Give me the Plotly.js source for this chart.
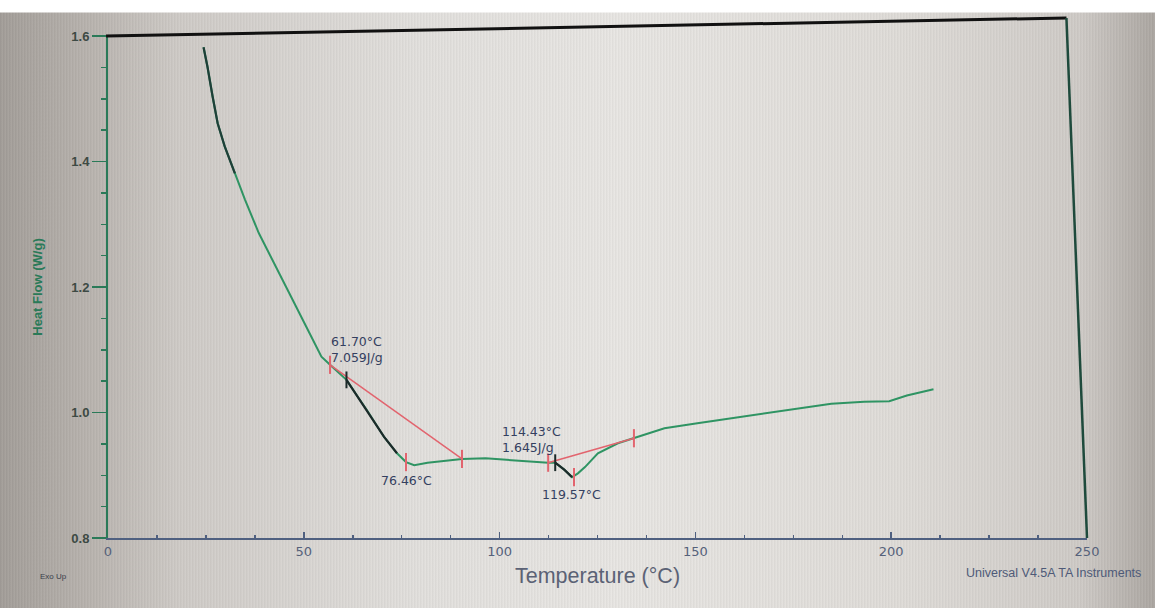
<!DOCTYPE html>
<html>
<head>
<meta charset="utf-8">
<script src="https://cdn.plot.ly/plotly-3.0.1.min.js"></script>
<style>
html,body{margin:0;padding:0;}
body{width:1155px;height:608px;overflow:hidden;position:relative;
background:
 linear-gradient(to bottom,#ffffff 0px,#ffffff 12px,rgba(255,255,255,0) 13px),
 repeating-linear-gradient(to right,rgba(0,0,0,0.035) 0px,rgba(0,0,0,0.035) 1px,rgba(255,255,255,0.03) 2px,rgba(255,255,255,0.03) 3px),
 linear-gradient(to right,#a39e99 0px,#b9b4af 90px,#cfcbc7 180px,#e2e0dd 420px,#e8e6e3 620px,#dfdcd8 900px,#cfcbc7 1080px,#aca7a2 1155px);}
#chart{width:1155px;height:608px;}
</style>
</head>
<body>
<div id="chart"></div>
<script>
// Heat flow curve (Temperature °C, Heat Flow W/g)
const tempC = [24.4,25.4,26.7,28.0,29.8,32.4,35.0,38.5,41.9,46.3,50.6,54.5,56.7,60.9,64.0,66.1,70.5,73.8,76.1,78.2,81.6,86.0,90.4,96.4,103.3,109.1,112.4,114.2,116.5,118.5,120.0,121.8,125.1,130.2,134.3,137.1,142.1,150.5,159.2,167.6,176.0,184.7,193.1,199.5,204.0,210.8];
const heatFlow = [1.582,1.551,1.504,1.461,1.424,1.381,1.339,1.286,1.243,1.190,1.137,1.089,1.076,1.052,1.023,1.004,0.961,0.935,0.921,0.916,0.920,0.923,0.926,0.927,0.924,0.921,0.920,0.920,0.909,0.897,0.903,0.913,0.935,0.951,0.959,0.964,0.975,0.983,0.991,0.999,1.007,1.014,1.017,1.018,1.027,1.037];

// darker (black) segments of the trace
const darkStartT = [24.4,25.4,26.7,28.0,29.8,32.4];
const darkStartHF = [1.582,1.551,1.504,1.461,1.424,1.381];
const tangent1T = [60.9,64.0,66.1,70.5,73.8];
const tangent1HF = [1.052,1.023,1.004,0.961,0.935];
const tangent2T = [114.2,116.5,118.5];
const tangent2HF = [0.920,0.909,0.897];

// integration baselines (red)
const base1T = [56.7,90.4];
const base1HF = [1.076,0.926];
const base2T = [112.4,134.3];
const base2HF = [0.920,0.959];

// red limit/peak markers
const redTickT = [56.7,76.1,90.4,112.4,119.0,134.3];
const redTickHF = [1.076,0.921,0.926,0.920,0.897,0.959];
// black onset markers
const onsetT = [60.9,114.2];
const onsetHF = [1.052,0.920];

// annotation labels
const labelText = ["61.70°C<br>7.059J/g","76.46°C","114.43°C<br>1.645J/g","119.57°C"];
const labelT = [56.5,76.1,100.0,118.3];
const labelHF = [1.100,0.921,0.929,0.897];

const xTicks = [0,50,100,150,200,250];
const yTicks = [0.8,1.0,1.2,1.4,1.6];
const yTickText = ["0.8","1.0","1.2","1.4","1.6"];

const green = '#2f9463';
const red = '#e2646e';
const dark = '#1c2a2a';

const traces = [
 {x: tempC, y: heatFlow, mode:'lines', line:{color:green,width:2}, hoverinfo:'skip'},
 {x: darkStartT, y: darkStartHF, mode:'lines', line:{color:'#1f3f38',width:2.2}, hoverinfo:'skip'},
 {x: base1T, y: base1HF, mode:'lines', line:{color:red,width:1.5}, hoverinfo:'skip'},
 {x: base2T, y: base2HF, mode:'lines', line:{color:red,width:1.5}, hoverinfo:'skip'},
 {x: tangent1T, y: tangent1HF, mode:'lines', line:{color:dark,width:2.2}, hoverinfo:'skip'},
 {x: tangent2T, y: tangent2HF, mode:'lines', line:{color:dark,width:2.2}, hoverinfo:'skip'},
 {x: redTickT, y: redTickHF, mode:'markers', marker:{symbol:'line-ns',size:13,line:{color:red,width:2}}, hoverinfo:'skip'},
 {x: onsetT, y: onsetHF, mode:'markers', marker:{symbol:'line-ns',size:12,line:{color:dark,width:2}}, hoverinfo:'skip'}
];

const annFont = {family:'DejaVu Sans, Verdana, sans-serif', size:12.5, color:'#344060'};
const annotations = [
 {x:labelT[0], y:labelHF[0], text:labelText[0], showarrow:false, xanchor:'left', yanchor:'middle', align:'left', font:annFont},
 {x:labelT[1], y:labelHF[1], text:labelText[1], showarrow:false, xanchor:'center', yanchor:'top', yshift:-9, font:annFont},
 {x:labelT[2], y:labelHF[2], text:labelText[2], showarrow:false, xanchor:'left', yanchor:'bottom', align:'left', yshift:0, font:annFont},
 {x:labelT[3], y:labelHF[3], text:labelText[3], showarrow:false, xanchor:'center', yanchor:'top', yshift:-8, font:annFont},
 {xref:'paper', yref:'paper', x:-0.0715, y:-0.0757, text:'Exo Up', showarrow:false, xanchor:'left', yanchor:'middle', font:{family:'Liberation Sans, Arial, sans-serif', size:8, color:'#3a3f4a'}},
 {xref:'paper', yref:'paper', x:0.874, y:-0.070, text:'Universal V4.5A TA Instruments', showarrow:false, xanchor:'left', yanchor:'middle', font:{family:'Liberation Sans, Arial, sans-serif', size:12.5, color:'#4e5a78'}}
];

const layout = {
 width:1155, height:608,
 margin:{l:108, r:68, t:36, b:70},
 paper_bgcolor:'rgba(0,0,0,0)',
 plot_bgcolor:'rgba(0,0,0,0)',
 showlegend:false,
 xaxis:{range:[0,250], tickvals:xTicks, ticktext:xTicks.map(String), showgrid:false, zeroline:false,
   showline:true, linecolor:'#4f6080', linewidth:2, ticks:'inside', ticklen:6, tickcolor:'#4f6080', tickwidth:1.5,
   minor:{dtick:12.5, ticks:'inside', ticklen:3, tickcolor:'#4f6080', tickwidth:1.5},
   tickfont:{family:'DejaVu Sans, Verdana, sans-serif', size:13, color:'#55617a'},
   title:{text:'Temperature (°C)', font:{family:'Liberation Sans, Arial, sans-serif', size:21.5, color:'#5b6275'}, standoff:10}},
 yaxis:{range:[0.8,1.6], tickvals:yTicks, ticktext:yTickText, showgrid:false, zeroline:false,
   showline:true, linecolor:'#2a7a58', linewidth:2, ticks:'outside', ticklen:14, tickcolor:'#2a7a58', tickwidth:1.5,
   minor:{dtick:0.05, ticks:'outside', ticklen:5, tickcolor:'#2a7a58', tickwidth:1.5},
   tickfont:{family:'Liberation Sans, Arial, sans-serif', size:13, color:'#3d4a44', weight:'bold'},
   title:{text:'Heat Flow (W/g)', font:{family:'Liberation Sans, Arial, sans-serif', size:13, color:'#2a7a58', weight:'bold'}, standoff:26}},
 shapes:[
  {type:'line', xref:'paper', yref:'paper', x0:-0.002, y0:1, x1:0.979, y1:1.036, line:{color:'#111111', width:3}},
  {type:'line', xref:'paper', yref:'paper', x0:0.979, y0:1.036, x1:1.0, y1:0, line:{color:'#1e4a3c', width:2.5}}
 ],
 annotations: annotations
};

Plotly.newPlot('chart', traces, layout, {displayModeBar:false, staticPlot:true});
</script>
</body>
</html>
